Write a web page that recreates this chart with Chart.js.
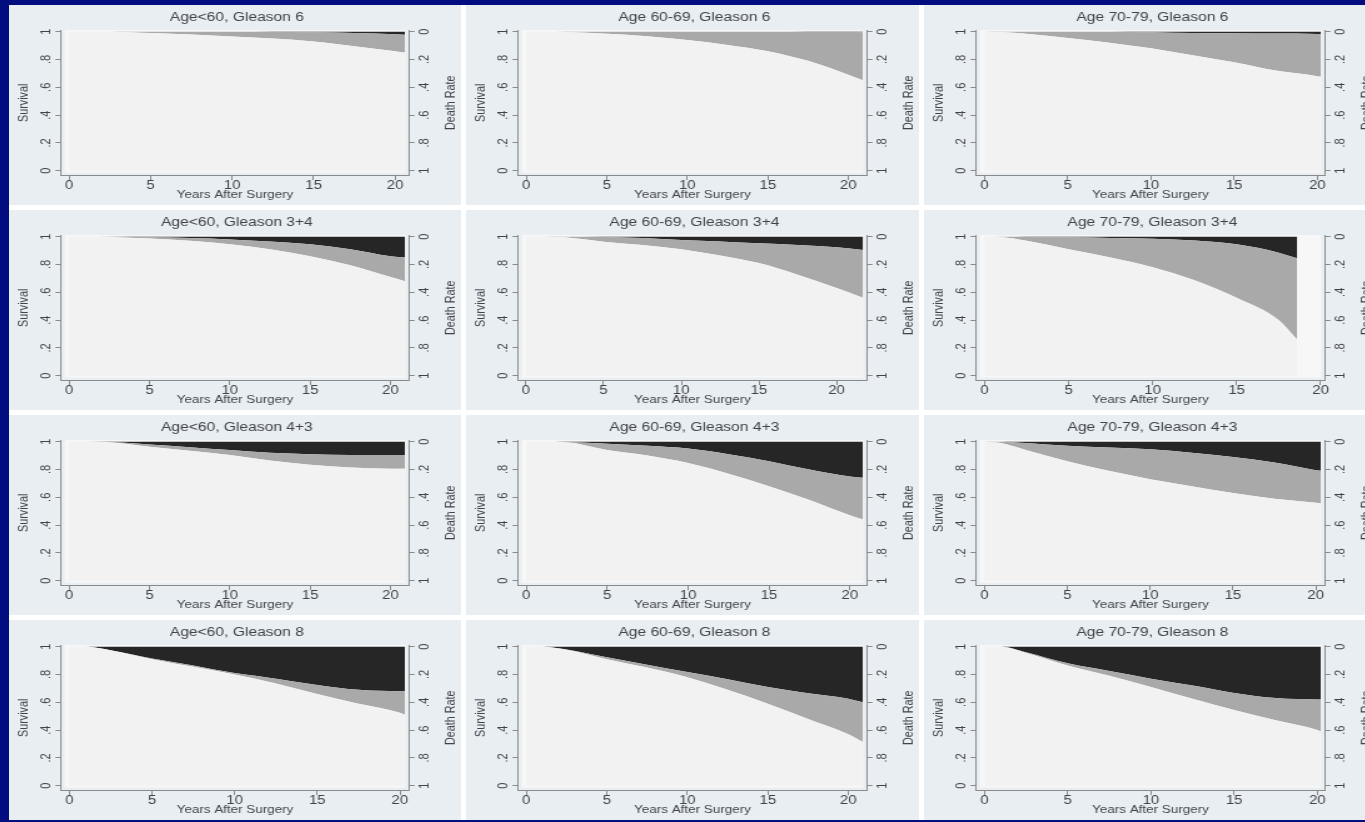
<!DOCTYPE html>
<html>
<head>
<meta charset="utf-8">
<script src="https://cdn.jsdelivr.net/npm/chart.js@4.4.1/dist/chart.umd.min.js"></script>
<style>
  html, body { margin: 0; padding: 0; }
  body { width: 1365px; height: 822px; overflow: hidden; background: #020e80; position: relative; }
  #grid { position: absolute; left: 9px; top: 5px; display: grid;
          grid-template-columns: 452px 453px 453px; grid-auto-rows: 200px; gap: 5px; background: #fff; }
  .panel { background: #e8eef2; height: 200px; }
  .panel canvas { display: block; }
</style>
</head>
<body>
<div id="grid"></div>
<script>
const titles = [
  'Age<60, Gleason 6', 'Age 60-69, Gleason 6', 'Age 70-79, Gleason 6',
  'Age<60, Gleason 3+4', 'Age 60-69, Gleason 3+4', 'Age 70-79, Gleason 3+4',
  'Age<60, Gleason 4+3', 'Age 60-69, Gleason 4+3', 'Age 70-79, Gleason 4+3',
  'Age<60, Gleason 8', 'Age 60-69, Gleason 8', 'Age 70-79, Gleason 8'
];

// years after surgery; each series also has a last value at lastYear
const years = [0, 1, 2.5, 5, 7.5, 10, 12.5, 15, 17.5, 20];
const lastYear = [20.6, 20.9, 20.2, 20.9, 21.7, 18.6, 20.9, 20.8, 20.3, 20.3, 20.9, 20.2];

// overall survival (lower edge of the grey band)
const survival = [
  [1, 1, 1, 0.99, 0.98, 0.965, 0.95, 0.93, 0.895, 0.86, 0.85],
  [1, 1, 0.997, 0.985, 0.967, 0.94, 0.905, 0.86, 0.79, 0.69, 0.65],
  [1, 0.997, 0.985, 0.955, 0.92, 0.88, 0.83, 0.78, 0.72, 0.68, 0.675],
  [1, 1, 0.998, 0.986, 0.97, 0.945, 0.91, 0.86, 0.795, 0.71, 0.68],
  [1, 1, 0.995, 0.964, 0.94, 0.91, 0.865, 0.81, 0.726, 0.63, 0.56],
  [1, 0.997, 0.97, 0.91, 0.85, 0.78, 0.686, 0.56, 0.40, null, 0.26],
  [1, 1, 0.995, 0.964, 0.935, 0.905, 0.865, 0.834, 0.815, 0.806, 0.805],
  [1, 1, 0.995, 0.94, 0.90, 0.846, 0.77, 0.68, 0.58, 0.47, 0.44],
  [1, 0.99, 0.94, 0.86, 0.79, 0.73, 0.68, 0.63, 0.59, 0.56, 0.555],
  [1, 1, 0.975, 0.91, 0.855, 0.80, 0.735, 0.66, 0.59, 0.525, 0.51],
  [1, 1, 0.978, 0.91, 0.85, 0.78, 0.69, 0.59, 0.48, 0.37, 0.315],
  [1, 1, 0.955, 0.864, 0.79, 0.71, 0.625, 0.545, 0.47, 0.40, 0.39]
];

// free of prostate cancer death (lower edge of the black band)
const cancerFree = [
  [1, 1, 1, 1, 1, 0.999, 0.998, 0.996, 0.99, 0.981, 0.978],
  [1, 1, 1, 1, 1, 1, 1, 0.999, 0.998, 0.997, 0.996],
  [1, 1, 1, 1, 0.999, 0.996, 0.99, 0.988, 0.986, 0.984, 0.983],
  [1, 1, 1, 0.995, 0.99, 0.98, 0.965, 0.945, 0.91, 0.86, 0.85],
  [1, 1, 1, 0.998, 0.99, 0.976, 0.965, 0.952, 0.94, 0.924, 0.905],
  [1, 1, 0.998, 0.995, 0.99, 0.985, 0.972, 0.945, 0.885, null, 0.845],
  [1, 1, 0.997, 0.98, 0.96, 0.94, 0.92, 0.91, 0.905, 0.905, 0.905],
  [1, 1, 0.998, 0.985, 0.97, 0.95, 0.91, 0.86, 0.80, 0.75, 0.74],
  [1, 1, 0.99, 0.97, 0.958, 0.945, 0.92, 0.89, 0.85, 0.795, 0.79],
  [1, 1, 0.975, 0.915, 0.865, 0.81, 0.77, 0.725, 0.69, 0.68, 0.68],
  [1, 1, 0.98, 0.924, 0.87, 0.817, 0.765, 0.71, 0.665, 0.626, 0.60],
  [1, 1, 0.96, 0.88, 0.825, 0.77, 0.72, 0.667, 0.63, 0.62, 0.62]
];

const yTicks = [0, 0.2, 0.4, 0.6, 0.8, 1];
const yTickLabels = ['0', '.2', '.4', '.6', '.8', '1'];
const xTicks = [0, 5, 10, 15, 20];

const FONT = '"Liberation Sans", Arial, sans-serif';
const TEXT = '#40444a';
const AXIS = '#8a8a8a';
const STRETCH = 1.25;   // the reference is stretched sideways
const Y_MIN = -0.035, Y_MAX = 1.012;

const stataAxes = {
  id: 'stataAxes',
  beforeDatasetsDraw(chart) {
    const a = chart.chartArea, ctx = chart.ctx;
    ctx.save();
    ctx.fillStyle = '#f7f7f7';
    ctx.fillRect(a.left + 3, a.top, a.right - a.left - 6, a.bottom - a.top - 3);
    ctx.restore();
  },
  afterDraw(chart) {
    const ctx = chart.ctx;
    ctx.save();
    ctx.fillStyle = TEXT;
    ctx.textAlign = 'center';
    ctx.textBaseline = 'middle';
    ctx.font = '11px ' + FONT;
    ['y', 'y2'].forEach(id => {
      const s = chart.scales[id];
      const x = id === 'y' ? s.right - 12.2 : s.left + 13;
      s.ticks.forEach((t, i) => {
        ctx.save();
        ctx.translate(x, s.getPixelForTick(i));
        ctx.rotate(-Math.PI / 2);
        ctx.fillText(t.label, 0, 0);
        ctx.restore();
      });
    });
    const r = chart.scales.y2;
    ctx.font = '10.75px ' + FONT;
    ctx.translate(r.right - 1.2 - 6.45, (r.top + r.bottom) / 2);
    ctx.rotate(-Math.PI / 2);
    ctx.fillText('Death Rate', 0, 0);
    ctx.restore();
  }
};

function setTicks(values) {
  return scale => { scale.ticks = values.filter(v => v <= scale.max).map(v => ({ value: v })); };
}

const grid = document.getElementById('grid');

titles.forEach((title, p) => {
  const panel = document.createElement('div');
  panel.className = 'panel';
  const displayW = p % 3 === 0 ? 452 : 453;
  const canvas = document.createElement('canvas');
  canvas.width = Math.round(displayW / STRETCH);
  canvas.height = 200;
  canvas.style.width = displayW + 'px';
  canvas.style.height = '200px';
  panel.appendChild(canvas);
  grid.appendChild(panel);

  const xs = years.concat([lastYear[p]]);
  const sPts = [], tPts = [], topPts = [];
  xs.forEach((x, i) => {
    if (survival[p][i] === null) return;
    sPts.push({ x: x, y: survival[p][i] });
    tPts.push({ x: x, y: cancerFree[p][i] });
    topPts.push({ x: x, y: 1 });
  });

  const area = (data, fill, color) => ({
    data: data, fill: fill, backgroundColor: color, borderWidth: 0,
    pointRadius: 0, cubicInterpolationMode: 'monotone'
  });

  const tickFont = { family: FONT, size: 12, lineHeight: 1 };
  const titleFont = { family: FONT, size: 10.75, lineHeight: 1.2 };

  new Chart(canvas, {
    type: 'line',
    data: {
      datasets: [
        area(sPts, 'origin', '#f2f2f2'),
        area(tPts, '-1', '#a9a9a9'),
        area(topPts, '-1', '#262626')
      ]
    },
    options: {
      responsive: false,
      animation: false,
      layout: { padding: { left: 3, right: 0, top: 0, bottom: 3.5 } },
      plugins: {
        legend: { display: false },
        tooltip: { enabled: false },
        title: {
          display: true, text: title, color: TEXT,
          font: { family: FONT, size: 12.5, weight: 'normal', lineHeight: 1.2 },
          padding: { top: 5, bottom: 5 }
        }
      },
      scales: {
        x: {
          type: 'linear', position: 'bottom',
          min: -0.5, max: Math.max(lastYear[p], 20) + 0.25,
          afterBuildTicks: setTicks(xTicks),
          ticks: { color: TEXT, font: tickFont, padding: 0, maxRotation: 0 },
          grid: { drawOnChartArea: false, drawTicks: true, tickLength: 4.5, color: AXIS },
          border: { display: true, color: AXIS },
          title: { display: true, text: 'Years After Surgery', color: TEXT, font: titleFont,
                   padding: { top: -3.5, bottom: 0 } }
        },
        y: {
          position: 'left', min: Y_MIN, max: Y_MAX,
          afterBuildTicks: setTicks(yTicks),
          ticks: { color: 'rgba(0,0,0,0)', font: { family: FONT, size: 11 }, padding: 3,
                   callback: v => yTickLabels[yTicks.indexOf(v)] },
          grid: { drawOnChartArea: false, drawTicks: true, tickLength: 4.5, color: AXIS },
          border: { display: true, color: AXIS },
          title: { display: true, text: 'Survival', color: TEXT, font: titleFont,
                   padding: { top: 2.5, bottom: 3.6 } }
        },
        y2: {
          position: 'right', reverse: true, min: 1 - Y_MAX, max: 1 - Y_MIN,
          afterBuildTicks: setTicks(yTicks),
          ticks: { color: 'rgba(0,0,0,0)', font: { family: FONT, size: 11 }, padding: 4,
                   callback: v => yTickLabels[yTicks.indexOf(v)] },
          grid: { drawOnChartArea: false, drawTicks: true, tickLength: 4.5, color: AXIS },
          border: { display: true, color: AXIS },
          title: { display: true, text: 'Death Rate', color: 'rgba(0,0,0,0)', font: titleFont,
                   padding: { top: 1.2, bottom: 5.9 } }
        }
      }
    },
    plugins: [stataAxes]
  });
});
</script>
</body>
</html>
